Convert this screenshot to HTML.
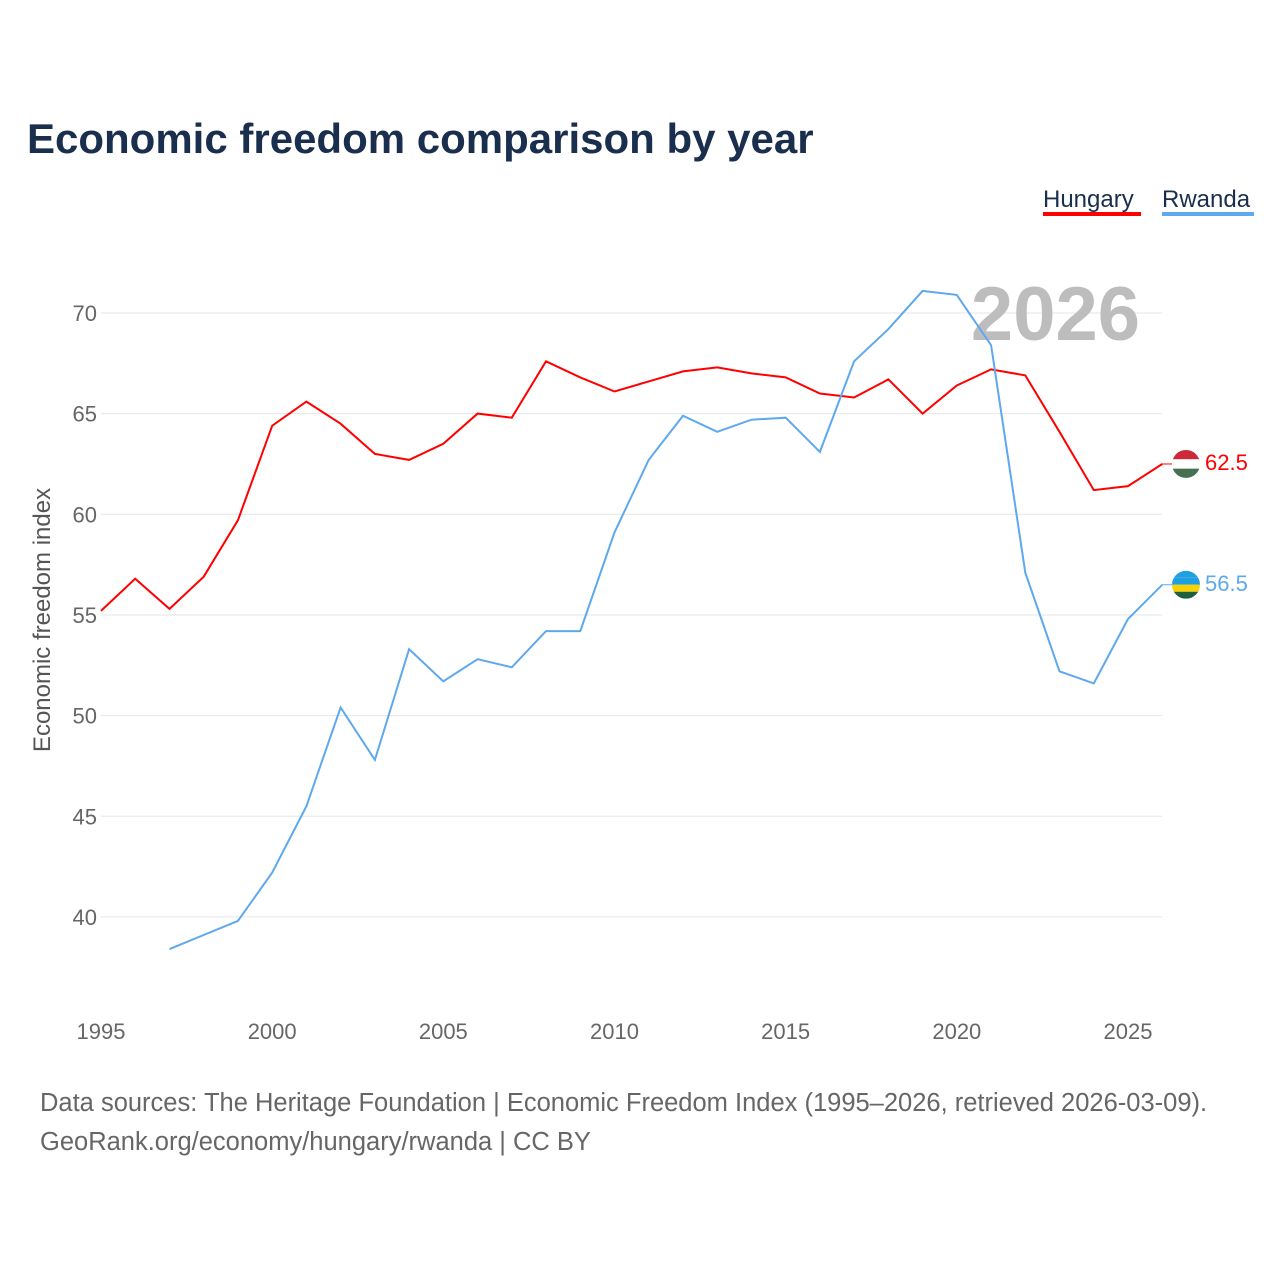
<!DOCTYPE html>
<html><head><meta charset="utf-8">
<style>
body{margin:0;background:#fff;font-family:"Liberation Sans",sans-serif;}
</style></head>
<body>
<svg id="chart" width="1280" height="1280" xmlns="http://www.w3.org/2000/svg">
<text x="27" y="153" font-size="42" font-weight="bold" fill="#1a2e4d">Economic freedom comparison by year</text>
<g>
<text x="1043" y="207" font-size="24" fill="#1a2e4d">Hungary</text>
<rect x="1043" y="212" width="98" height="4" fill="#ff0000"/>
</g>
<g>
<text x="1162" y="207" font-size="24" fill="#1a2e4d">Rwanda</text>
<rect x="1162" y="212" width="92" height="4" fill="#5ea8ee"/>
</g>
<g id="grid"></g>
<text x="1140" y="340" text-anchor="end" font-size="76" font-weight="bold" fill="#bdbdbd">2026</text>
<text transform="translate(50,620) rotate(-90)" text-anchor="middle" font-size="24" fill="#555">Economic freedom index</text>
<g id="series"></g>
<text x="40" y="1111" font-size="25.5" fill="#666">Data sources: The Heritage Foundation | Economic Freedom Index (1995–2026, retrieved 2026-03-09).</text>
<text x="40" y="1150" font-size="25.5" fill="#666">GeoRank.org/economy/hungary/rwanda | CC BY</text>
</svg>
<script>
const years=[1995,1996,1997,1998,1999,2000,2001,2002,2003,2004,2005,2006,2007,2008,2009,2010,2011,2012,2013,2014,2015,2016,2017,2018,2019,2020,2021,2022,2023,2024,2025,2026];
const hungary=[55.2,56.8,55.3,56.9,59.7,64.4,65.6,64.5,63.0,62.7,63.5,65.0,64.8,67.6,66.8,66.1,66.6,67.1,67.3,67.0,66.8,66.0,65.8,66.7,65.0,66.4,67.2,66.9,64.1,61.2,61.4,62.5];
const rwanda=[null,null,38.4,39.1,39.8,42.2,45.5,50.4,47.8,53.3,51.7,52.8,52.4,54.2,54.2,59.1,62.7,64.9,64.1,64.7,64.8,63.1,67.6,69.2,71.1,70.9,68.4,57.1,52.2,51.6,54.8,56.5];
const yTicks=[40,45,50,55,60,65,70];
const xTicks=[1995,2000,2005,2010,2015,2020,2025];
const NS="http://www.w3.org/2000/svg";
const x=y=>101+(y-1995)*34.233;
const yS=v=>313+(70-v)*20.13;
function mk(tag,attrs,parent){const e=document.createElementNS(NS,tag);for(const k in attrs)e.setAttribute(k,attrs[k]);parent.appendChild(e);return e;}
const grid=document.getElementById('grid');
yTicks.forEach(t=>{
 const l=mk('line',{x1:101,x2:1162,y1:yS(t),y2:yS(t),stroke:'#e6e6e6','stroke-width':1},grid);
 
 
 const tx=mk('text',{x:97,y:yS(t)+8,'text-anchor':'end','font-size':22,fill:'#666'},grid);
 tx.textContent=t;
 
 
});
xTicks.forEach(t=>{
 const tx=mk('text',{x:x(t),y:1039,'text-anchor':'middle','font-size':22,fill:'#666'},grid);
 tx.textContent=t;
 
 
});
const ser=document.getElementById('series');
function line(vals,color,name,flagColors){
 let d='';let started=false;
 vals.forEach((v,i)=>{if(v==null)return;d+=(started?'L':'M')+x(years[i]).toFixed(1)+','+yS(v).toFixed(1);started=true;});
 const p=mk('path',{d:d,fill:'none',stroke:color,'stroke-width':2},ser);
 
 
 const last=vals[vals.length-1];const ly=yS(last);
 const g=mk('g',{},ser);
 
 
 mk('line',{x1:1162,x2:1172,y1:ly,y2:ly,stroke:color,'stroke-width':1},g);
 const cid='c'+name;
 const cp=mk('clipPath',{id:cid},g);mk('circle',{cx:1186,cy:ly,r:14},cp);
 const h=28/flagColors.length;
 flagColors.forEach((c,i)=>mk('rect',{x:1172,y:ly-14+i*h,width:28,height:h,fill:c,'clip-path':'url(#'+cid+')'},g));
 const lab=mk('text',{x:1205,y:ly+6,'font-size':22,fill:color},ser);
 lab.textContent=last.toFixed(1);
 
 
}
line(hungary,'#ff0000','hungary',['#ce2939','#ffffff','#477050']);
line(rwanda,'#5ea8ee','rwanda',['#20a0e0','#20a0e0','#fad201','#20603d']);
</script>
</body></html>
